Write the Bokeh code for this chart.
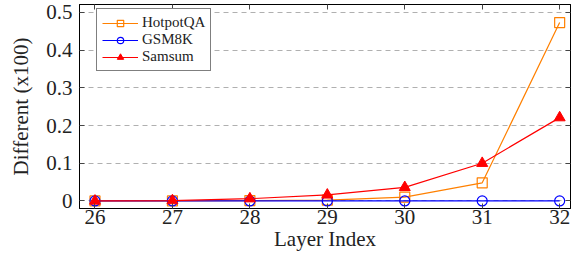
from bokeh.plotting import figure
from bokeh.models import Range1d, FixedTicker, LinearAxis, Legend, LegendItem
from bokeh.embed import file_html
from bokeh.resources import INLINE

layers = [26, 27, 28, 29, 30, 31, 32]
hotpotqa = [0.0, 0.0, 0.001, 0.002, 0.010, 0.048, 0.473]
gsm8k = [0.0, 0.0, 0.0, 0.0, 0.0, 0.0, 0.0]
samsum = [0.0, 0.001, 0.006, 0.016, 0.036, 0.100, 0.221]
y_ticks = [0, 0.1, 0.2, 0.3, 0.4, 0.5]
x_label = "Layer Index"
y_label = "Different (x100)"

FONT = "Liberation Serif"

p = figure(width=571, height=253, output_backend="svg", toolbar_location=None,
           x_range=Range1d(25.8, 32.14), y_range=Range1d(-0.02, 0.521),
           min_border_left=79, min_border_right=1, min_border_top=4, min_border_bottom=44)
p.outline_line_color = "black"
p.outline_line_width = 1
p.background_fill_color = "white"
p.border_fill_color = "white"

xt = FixedTicker(ticks=layers)
yt = FixedTicker(ticks=y_ticks)

p.xaxis.ticker = xt
p.yaxis.ticker = yt
p.yaxis.major_label_overrides = {0: "0"}
for ax in (p.xaxis[0], p.yaxis[0]):
    ax.major_label_text_font = FONT
    ax.major_label_text_font_size = "21px"
    ax.major_label_text_color = "#222222"
    ax.axis_label_text_font = FONT
    ax.axis_label_text_font_size = "21px"
    ax.axis_label_text_font_style = "normal"
    ax.axis_label_text_color = "#222222"
    ax.major_tick_in = 5
    ax.major_tick_out = 0
    ax.minor_tick_line_color = None
    ax.axis_line_color = "black"
    ax.major_tick_line_color = "#444444"
p.xaxis.axis_label = x_label
p.yaxis.axis_label = y_label
p.xaxis.major_label_standoff = 1
p.xaxis.axis_label_standoff = 0
p.yaxis.major_label_standoff = 7
p.yaxis.axis_label_standoff = 10

for loc, tk, vals in (("above", xt, layers), ("right", yt, y_ticks)):
    ax = LinearAxis(ticker=tk)
    ax.major_label_overrides = {v: "" for v in vals}
    ax.major_label_standoff = 0
    ax.major_tick_in = 5
    ax.major_tick_out = 0
    ax.minor_tick_line_color = None
    ax.axis_line_color = "black"
    ax.major_tick_line_color = "#444444"
    p.add_layout(ax, loc)

p.xgrid.grid_line_color = None
p.ygrid.ticker = yt
p.ygrid.grid_line_color = "#b0b0b0"
p.ygrid.grid_line_dash = "5 4"
p.ygrid.grid_line_width = 1

ORANGE = "#ff8000"
BLUE = "#0000ff"
RED = "#ff0000"

l1 = p.line(layers, hotpotqa, line_color=ORANGE, line_width=1.2)
s1 = p.scatter(layers, hotpotqa, marker="square", size=10, line_color=ORANGE,
               fill_color="white", fill_alpha=0.0, line_width=1.2)
l2 = p.line(layers, gsm8k, line_color=BLUE, line_width=1.2)
s2 = p.scatter(layers, gsm8k, marker="circle", size=10, line_color=BLUE,
               fill_color="white", fill_alpha=0.0, line_width=1.2)
l3 = p.line(layers, samsum, line_color=RED, line_width=1.2)
s3 = p.scatter(layers, samsum, marker="triangle", size=11, line_color=RED,
               fill_color=RED, line_width=1)

legend = Legend(items=[
    LegendItem(label="HotpotQA", renderers=[l1, s1]),
    LegendItem(label="GSM8K", renderers=[l2, s2]),
    LegendItem(label="Samsum", renderers=[l3, s3]),
], location=(17, 137))
legend.label_text_font = FONT
legend.label_text_font_size = "15px"
legend.label_text_color = "#222222"
legend.glyph_width = 36
legend.glyph_height = 16
legend.label_height = 16
legend.label_standoff = 4
legend.spacing = 0
legend.padding = 5
legend.margin = 0
legend.border_line_color = "black"
legend.border_line_width = 1
legend.background_fill_alpha = 1.0
p.add_layout(legend)

open("out.html", "w").write(file_html(p, INLINE))
